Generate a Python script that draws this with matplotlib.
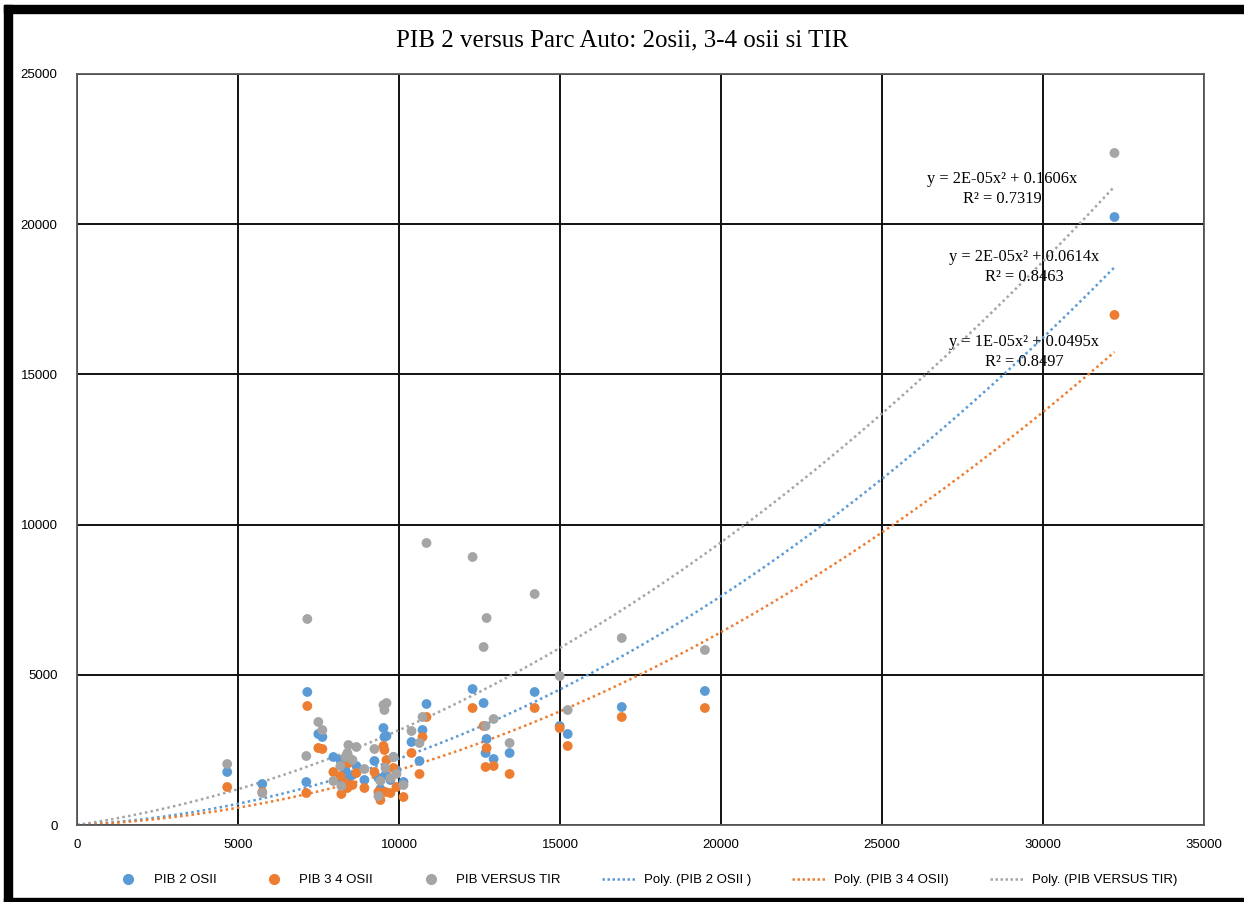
import numpy as np
import matplotlib
matplotlib.use('Agg')
import matplotlib.pyplot as plt
from matplotlib import font_manager
from matplotlib.lines import Line2D
from matplotlib.patches import Rectangle

# ── date (PIB vs parc auto, pe judete) ──
pib = [4665, 5754, 7122, 7153, 7495, 7620, 7962, 8179, 8210, 8397,
       8428, 8677, 8926, 9237, 9361, 9517, 9548, 9610, 9579, 9734,
       9828, 9921, 10139, 10388, 10636, 10730, 10854, 12285, 12627, 12720,
       12689, 12938, 13435, 14213, 14990, 15239, 16918, 19500, 32220,
       8553, 8335, 9423]
osii_2 = [1765, 1365, 1431, 4428, 3029, 2930, 2264, 2164, 1531, 1531,
          2264, 1964, 1498, 2131, 1565, 3229, 2930, 2963, 1665, 1498,
          2264, 1831, 1431, 2763, 2131, 3163, 4028, 4527, 4061, 2863,
          2397, 2197, 2397, 4428, 3296, 3029, 3928, 4461, 20240,
          1665, 1831, 1198]
osii_34 = [1265, 1099, 1065, 3962, 2563, 2530, 1764, 1631, 1032, 1232,
           2064, 1731, 1232, 1764, 1099, 2630, 2497, 2164, 1099, 1065,
           1898, 1265, 932, 2397, 1698, 2930, 3595, 3895, 3296, 2563,
           1931, 1964, 1698, 3895, 3229, 2630, 3595, 3895, 16980,
           1332, 1398, 832]
tir = [2031, 1065, 2297, 6858, 3429, 3163, 1465, 1964, 1298, 2397,
       2663, 2597, 1864, 2530, 965, 3995, 3828, 4061, 1898, 1565,
       2264, 1698, 1332, 3129, 2730, 3595, 9388, 8922, 5925, 6891,
       3296, 3529, 2730, 7690, 4960, 3828, 6225, 5826, 22370,
       2164, 2264, 1465]

labels = ['PIB 2 OSII', 'PIB 3 4 OSII', 'PIB VERSUS TIR']
trend_labels = ['Poly. (PIB 2 OSII )', 'Poly. (PIB 3 4 OSII)', 'Poly. (PIB VERSUS TIR)']
equations = ['y = 2E-05x\u00b2 + 0.0614x\nR\u00b2 = 0.8463',
             'y = 1E-05x\u00b2 + 0.0495x\nR\u00b2 = 0.8497',
             'y = 2E-05x\u00b2 + 0.1606x\nR\u00b2 = 0.7319']
colors = ['#5B9BD5', '#ED7D31', '#A5A5A5']

installed = {f.name for f in font_manager.fontManager.ttflist}
narrow = 'Liberation Sans Narrow' if 'Liberation Sans Narrow' in installed else 'Liberation Sans'
serif = 'Liberation Serif'

fig = plt.figure(figsize=(12.44, 9.02), dpi=100)
ax = fig.add_axes([77 / 1244, 1 - 825 / 902, (1204 - 77) / 1244, (825 - 74) / 902])

x = np.array(pib, dtype=float)
series = [np.array(osii_2, float), np.array(osii_34, float), np.array(tir, float)]

# polinom grad 2 cu interceptare 0 (ca in Excel)
xs = np.linspace(0, x.max(), 300)
for ys, col in zip(series, colors):
    A = np.column_stack([x ** 2, x])
    coef, *_ = np.linalg.lstsq(A, ys, rcond=None)
    ax.plot(xs, coef[0] * xs ** 2 + coef[1] * xs, color=col, lw=1.8,
            linestyle=(0, (1, 1.3)), zorder=2)

for ys, col in zip(series, colors):
    ax.scatter(x, ys, s=50, color=col, edgecolors='none', zorder=3)

eq_pos = [(29420, 18576), (29420, 15746), (28736, 21172)]
for (ex, ey), txt in zip(eq_pos, equations):
    ax.text(ex, ey, txt, ha='center', va='center', multialignment='center',
            fontsize=11.8, family=serif, linespacing=1.3, zorder=4)

ax.set_xlim(0, 35000)
ax.set_ylim(0, 25000)
ax.set_xticks(np.arange(0, 35001, 5000))
ax.set_yticks(np.arange(0, 25001, 5000))
ax.grid(True, color='#111111', lw=1.4)
ax.set_axisbelow(True)
for sp in ax.spines.values():
    sp.set_color('#595959')
    sp.set_linewidth(1.3)
ax.tick_params(length=0, labelsize=9.5, pad=10)
for lab in ax.get_xticklabels() + ax.get_yticklabels():
    lab.set_family(narrow)
ax.tick_params(axis='y', pad=14)

fig.text(0.5, 1 - 40 / 902, 'PIB 2 versus Parc Auto: 2osii, 3-4 osii si TIR',
         ha='center', va='center', fontsize=18, family=serif)

handles = [Line2D([], [], marker='o', ls='none', color=c, markersize=7) for c in colors]
handles += [Line2D([], [], color=c, lw=1.8, linestyle=(0, (1, 1.0))) for c in colors]
leg = fig.legend(handles, labels + trend_labels, loc='center', ncol=6,
                 bbox_to_anchor=(0.518, 1 - 880 / 902), frameon=False,
                 prop={'family': narrow, 'size': 9.5}, handlelength=2.6,
                 columnspacing=3.1, handletextpad=0.6)

# rama neagra
fig.patches.append(Rectangle((4 / 1244, 1 - 13 / 902), 1, 8 / 902, transform=fig.transFigure,
                             color='black', zorder=10))
fig.patches.append(Rectangle((4 / 1244, 0), 8 / 1244, 1 - 5 / 902, transform=fig.transFigure,
                             color='black', zorder=10))
fig.patches.append(Rectangle((4 / 1244, 0), 1, 4 / 902, transform=fig.transFigure,
                             color='black', zorder=10))

fig.savefig('out.png', dpi=100)
